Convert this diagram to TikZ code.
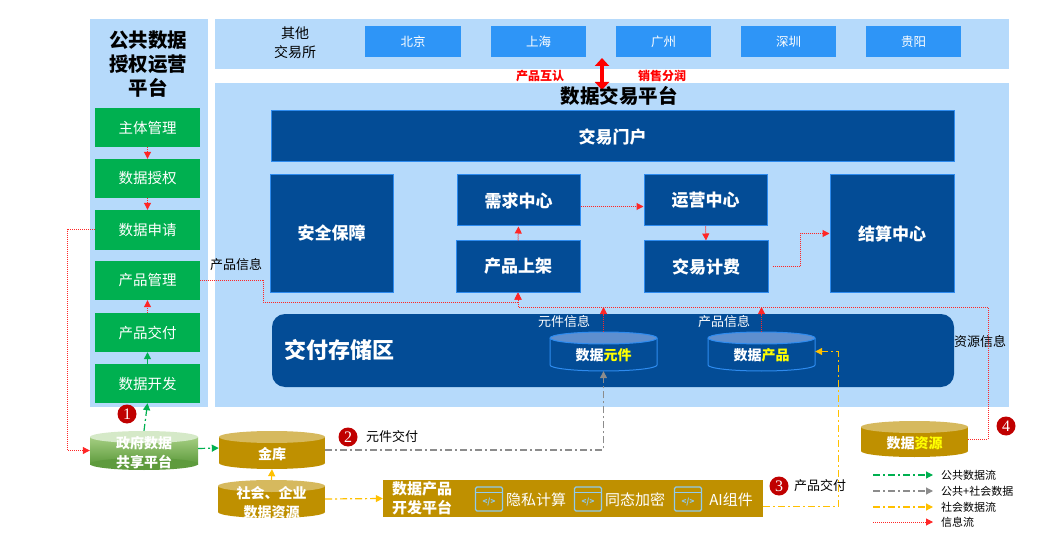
\documentclass[tikz,border=0pt]{standalone}
\usepackage{fontspec}
\setmainfont{Noto Sans CJK SC}
\newfontfamily\numfont{Liberation Serif}
\usetikzlibrary{arrows.meta,calc}
\definecolor{panel}{HTML}{B6DAFB}
\definecolor{dblue}{HTML}{034C96}
\definecolor{bborder}{HTML}{2E8BEF}
\definecolor{city}{HTML}{2E95F7}
\definecolor{grn}{HTML}{00B050}
\definecolor{gold}{HTML}{BF9000}
\definecolor{goldtop}{HTML}{D6B95E}
\definecolor{dred}{HTML}{C00000}
\definecolor{yel}{HTML}{FFC000}
\definecolor{gry}{HTML}{8C8C8C}
\definecolor{cyltop}{HTML}{5E8FCF}
\definecolor{icon}{HTML}{8FCBEF}
\definecolor{gtop}{HTML}{D5E9C8}
\definecolor{gmid}{HTML}{A5CE82}
\definecolor{gbot}{HTML}{5E9B3D}
\definecolor{ylw}{HTML}{FFFF00}
\newcommand\rbox[7]{\node[#6, minimum width={(#4-#2)*1pt}, minimum height={(#5-#3)*1pt}, inner sep=0pt] (#1) at ({(#2+#4)/2},{(#3+#5)/2}) {#7};}
% cylinder: name x1 y1 x2 y2 body top border text
\newcommand\mycyl[9]{%
  \path[fill=#6] (#2,#3+6) rectangle (#4,#5-6);
  \path[fill=#6] ({(#2+#4)/2},#5-6) ellipse[x radius={(#4-#2)/2*1pt}, y radius=6pt];
  \path[fill=#7] ({(#2+#4)/2},#3+6) ellipse[x radius={(#4-#2)/2*1pt}, y radius=6pt];
  \draw[#8] (#2,#3+6) -- (#2,#5-6) arc[start angle=180,end angle=360,x radius={(#4-#2)/2*1pt}, y radius=6pt] -- (#4,#3+6);
  \draw[#8] ({(#2+#4)/2},#3+6) ellipse[x radius={(#4-#2)/2*1pt}, y radius=6pt];
  \node[minimum width={(#4-#2)*1pt}, minimum height={(#5-#3)*1pt}, inner sep=0pt] (#1) at ({(#2+#4)/2},{(#3+#5)/2}) {};
  \node[cyltext] at ({(#2+#4)/2},{(#3+#5)/2+4}) {#9};}
\newcommand\codeicon[2]{%
  \node[draw=icon, line width=1.3pt, rounded corners=1.5pt, minimum width=27pt, minimum height=24pt, inner sep=0pt] (#1) at #2 {};
  \draw[icon, line width=1.3pt] ([yshift=-6pt]#1.north west) -- ([yshift=-6pt]#1.north east);
  \node[text=icon, font=\bfseries\fontsize{8}{8}\selectfont, inner sep=0pt] at ([yshift=-3pt]#1.center) {</>};}
\begin{document}
\begin{tikzpicture}[x=1pt,y=-1pt,
  gbox/.style={fill=grn, text=white, font=\fontsize{14.5}{14.5}\selectfont},
  bbox/.style={fill=dblue, draw=bborder, line width=1pt, text=white, font=\bfseries\fontsize{17}{17}\selectfont},
  citybox/.style={fill=city, text=white, font=\fontsize{12.5}{12.5}\selectfont},
  cyltext/.style={text=white, align=center, font=\bfseries\fontsize{14}{19}\selectfont, inner sep=0pt},
  lbl/.style={font=\fontsize{13}{13}\selectfont, inner sep=0pt},
  numc/.style={circle, fill=dred, text=white, inner sep=0pt, minimum size=19pt, font=\numfont\fontsize{16}{16}\selectfont},
  tip/.style={-{Triangle[length=7pt,width=7pt]}},
  info/.style={red!85, line width=1pt, dash pattern=on 1pt off 1pt, tip},
  pubflow/.style={grn, line width=1.2pt, dash pattern=on 7pt off 3pt on 2pt off 3pt, tip},
  mixflow/.style={gry, line width=1.2pt, dash pattern=on 7pt off 3pt on 2pt off 3pt, tip},
  socflow/.style={yel, line width=1.2pt, dash pattern=on 7pt off 3pt on 2pt off 3pt, tip},
  legtxt/.style={font=\fontsize{11}{11}\selectfont, anchor=west, inner sep=0pt}]
\useasboundingbox (0,0) rectangle (1057,545);
% panels
\rbox{lp}{90}{19}{208}{407}{fill=panel}{}
\rbox{tb}{215}{19}{1009}{69}{fill=panel}{}
\rbox{mp}{215}{83}{1009}{407}{fill=panel}{}
\node[font=\bfseries\fontsize{19.5}{24}\selectfont, align=center, inner sep=0pt] (lt) at (148,64) {公共数据\\授权运营\\平台};
% green boxes
\rbox{a1}{95}{108}{200}{147}{gbox}{主体管理}
\rbox{a2}{95}{159}{200}{198}{gbox}{数据授权}
\rbox{a3}{95}{210}{200}{250}{gbox}{数据申请}
\rbox{a4}{95}{261}{200}{300}{gbox}{产品管理}
\rbox{a5}{95}{313}{200}{352}{gbox}{产品交付}
\rbox{a6}{95}{364}{200}{403}{gbox}{数据开发}
% top bar
\node[font=\fontsize{14}{19}\selectfont, align=center, inner sep=0pt] (qt) at (295,43) {其他\\交易所};
\rbox{c1}{365}{26}{461}{57}{citybox}{北京}
\rbox{c2}{491}{26}{586}{57}{citybox}{上海}
\rbox{c3}{616}{26}{711}{57}{citybox}{广州}
\rbox{c4}{741}{26}{836}{57}{citybox}{深圳}
\rbox{c5}{866}{26}{961}{57}{citybox}{贵阳}
\coordinate (da1) at (602,58);
\coordinate (da2) at (602,90);
\draw[red, line width=4.5pt, {Triangle[length=8pt,width=14pt]}-{Triangle[length=8pt,width=14pt]}] (da1) -- (da2);
\node[text=red, font=\bfseries\fontsize{12}{12}\selectfont] (hr) at (540,76) {产品互认};
\node[text=red, font=\bfseries\fontsize{12}{12}\selectfont] (fr) at (662,76) {销售分润};
\node[font=\bfseries\fontsize{19.5}{19.5}\selectfont, inner sep=0pt] (pt) at (619,96) {数据交易平台};
% platform boxes
\rbox{mh}{271}{111}{954}{162}{bbox}{交易门户}
\rbox{aq}{270}{175}{393}{292}{bbox}{安全保障}
\rbox{xq}{457}{175}{580}{226}{bbox}{需求中心}
\rbox{sj}{456}{241}{580}{292}{bbox}{产品上架}
\rbox{yy}{644}{175}{767}{226}{bbox}{运营中心}
\rbox{jf}{644}{241}{768}{292}{bbox}{交易计费}
\rbox{js}{830}{175}{954}{292}{bbox}{结算中心}
\rbox{st}{272}{314}{954}{387}{fill=dblue, rounded corners=13pt}{}
\node[text=white, font=\bfseries\fontsize{22}{22}\selectfont, inner sep=0pt] (stt) at (339,350) {交付存储区};
\mycyl{yj}{550}{332}{657}{371}{dblue}{cyltop}{bborder, line width=1pt}{数据\textcolor{ylw}{元件}}
\mycyl{cp}{708}{332}{815}{371}{dblue}{cyltop}{bborder, line width=1pt}{数据\textcolor{ylw}{产品}}
\node[lbl, text=white] (yjl) at (564,322) {元件信息};
\node[lbl, text=white] (cpl) at (724,322) {产品信息};
% bottom cylinders
\path[top color=gmid, bottom color=gbot] (90,437) rectangle (198,464);
\path[fill=gbot] (144,464) ellipse[x radius=54pt, y radius=6pt];
\path[fill=gtop] (144,437) ellipse[x radius=54pt, y radius=6pt];
\node[minimum width=108pt, minimum height=39pt, inner sep=0pt] (gov) at (144,450.5) {};
\node[cyltext] at (144,453) {政府数据\\共享平台};
\mycyl{jk}{219}{431}{325}{469}{gold}{goldtop}{draw=none}{金库}
\mycyl{sh}{218}{480}{325}{518}{gold}{goldtop}{draw=none}{社会、企业\\数据资源}
\mycyl{res}{861}{421}{968}{457}{gold}{goldtop}{draw=none}{数据\textcolor{ylw}{资源}}
% dev platform
\rbox{kf}{383}{480}{763}{517}{fill=gold}{}
\node[cyltext, font=\bfseries\fontsize{15}{19}\selectfont, align=left] (kft) at (422,498) {数据产品\\开发平台};
\codeicon{i1}{(489,499)}
\codeicon{i2}{(588,499)}
\codeicon{i3}{(688,499)}
\node[text=white, font=\fontsize{15}{15}\selectfont, inner sep=0pt] (t1) at (536,500) {隐私计算};
\node[text=white, font=\fontsize{15}{15}\selectfont, inner sep=0pt] (t2) at (635,500) {同态加密};
\node[text=white, font=\fontsize{15}{15}\selectfont, inner sep=0pt] (t3) at (731,500) {AI组件};
% numbers and labels
\node[numc] (n1) at (127,414) {1};
\node[numc] (n2) at (348,437) {2};
\node[numc] (n3) at (779,486) {3};
\node[numc] (n4) at (1006,426) {4};
\node[lbl] (l1) at (236,265) {产品信息};
\node[lbl] (l2) at (392,437) {元件交付};
\node[lbl] (l3) at (820,486) {产品交付};
\node[lbl] (l4) at (980,342) {资源信息};
% info flows
\draw[info] (a1.south) -- (a2.north);
\draw[info] (a2.south) -- (a3.north);
\draw[info] (a5.north) -- (a4.south);
\draw[info] (a3.west) -- ++(-27,0) |- (gov.west);
\coordinate (p1) at (263,302);
\draw[info] (a4.east) -| (p1) -| (sj.south);
\coordinate (p2) at (988,307);
\draw[info] (res.east) -| (p2) -| (sj.south);
\draw[info] (yj.north) -- (yj.north |- p2);
\draw[info] (cp.north) -- (cp.north |- p2);
\draw[info] (sj.north) -- (xq.south);
\draw[info] ([yshift=-6pt]xq.east) -- ([yshift=-6pt]yy.west);
\draw[info] (yy.south) -- (jf.north);
\draw[info] ([xshift=4pt]jf.east) -| ($(js.west)+(-29,0)$) -- (js.west);
% data flows
\draw[pubflow] (gov.north) -- (a6.south);
\draw[pubflow] (a6.north) -- (a5.south);
\draw[pubflow] ([yshift=2pt]gov.east) -- ([yshift=2pt]jk.west);
\draw[mixflow] (jk.east) -| (yj.south);
\draw[socflow] (sh.north) -- (jk.south);
\draw[socflow] (sh.east) -- (kf.west);
\draw[socflow] ([yshift=-8pt]kf.east) -| ($(cp.east)+(23,0)$) -- (cp.east);
% legend
\coordinate (g1a) at (873,475); \coordinate (g1b) at (933,475);
\coordinate (g2a) at (873,491); \coordinate (g2b) at (933,491);
\coordinate (g3a) at (873,507); \coordinate (g3b) at (933,507);
\coordinate (g4a) at (873,522); \coordinate (g4b) at (933,522);
\draw[pubflow] (g1a) -- (g1b);
\draw[mixflow] (g2a) -- (g2b);
\draw[socflow] (g3a) -- (g3b);
\draw[info] (g4a) -- (g4b);
\node[legtxt] (lg1) at (941,475) {公共数据流};
\node[legtxt] (lg2) at (941,491) {公共+社会数据};
\node[legtxt] (lg3) at (941,507) {社会数据流};
\node[legtxt] (lg4) at (941,522) {信息流};
\end{tikzpicture}
\end{document}
